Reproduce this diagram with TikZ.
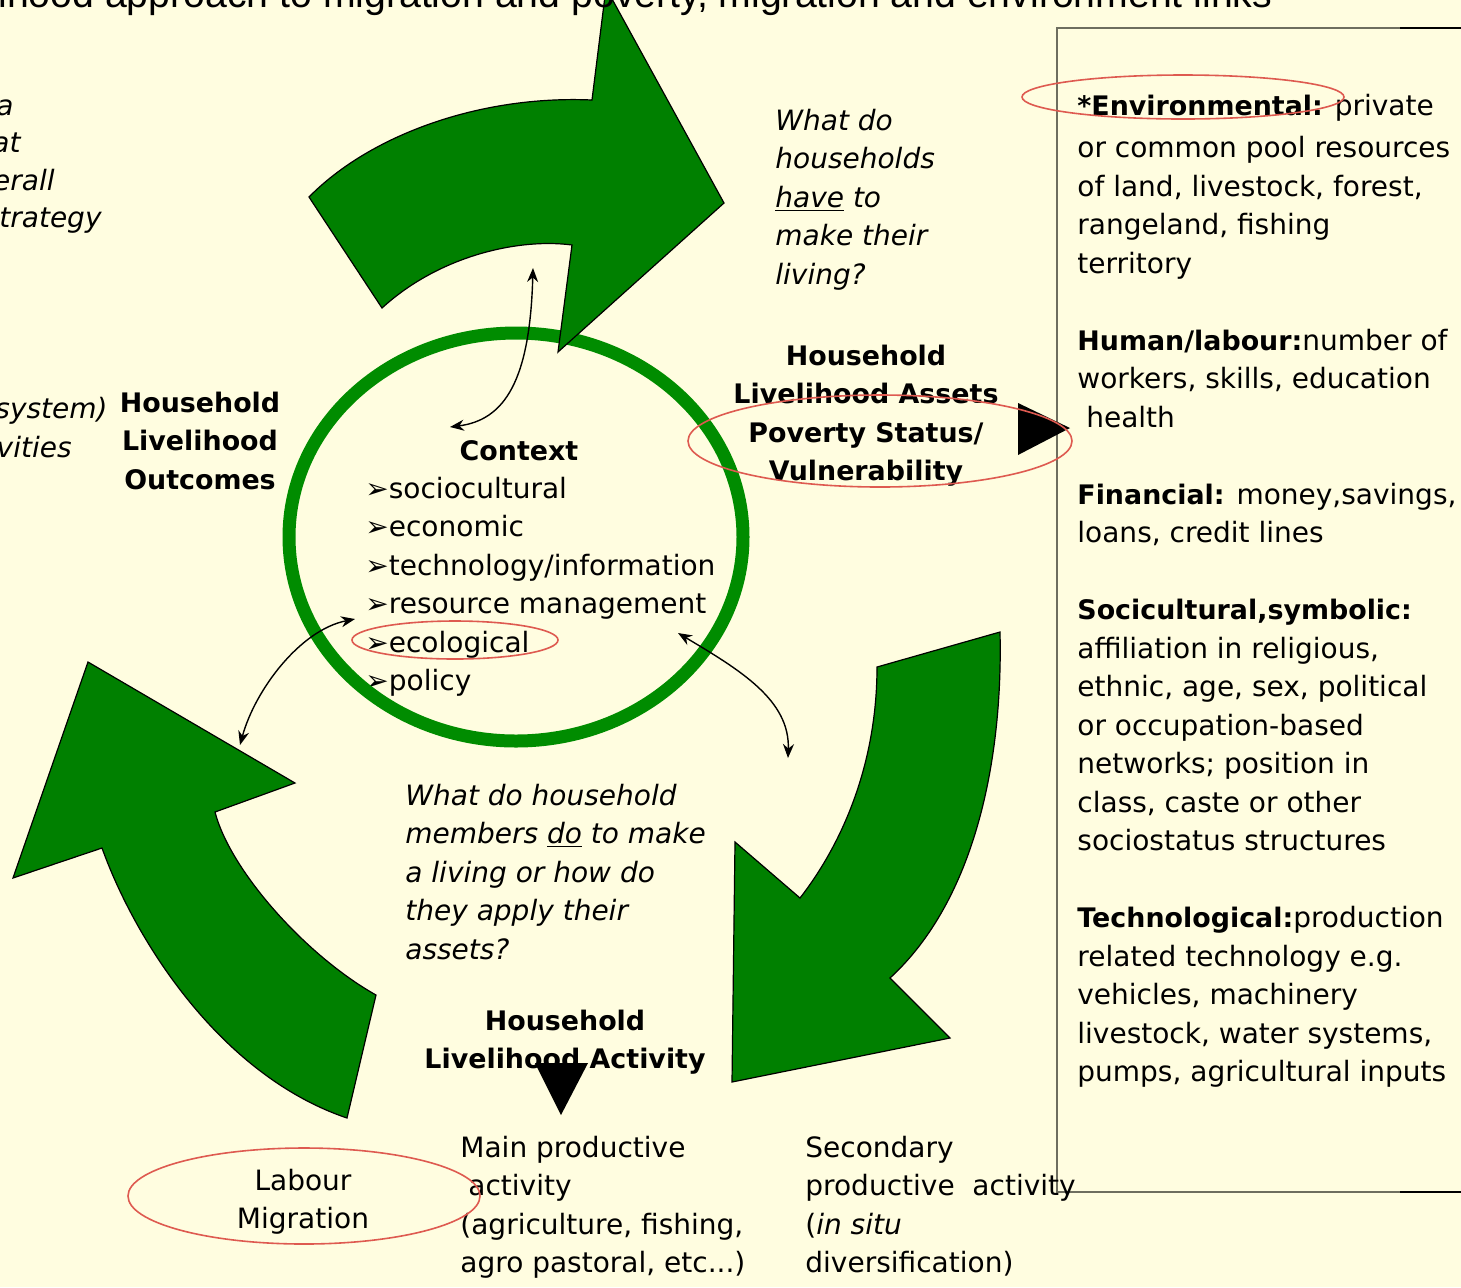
\documentclass[tikz,border=0pt]{standalone}
\usepackage{fontspec}
\setmainfont{DejaVu Sans}[BoldFeatures={Scale=0.96}]
\newfontfamily\titlefont{Liberation Sans}
\usetikzlibrary{arrows.meta}
\definecolor{bg}{RGB}{255,253,224}
\definecolor{arrgreen}{RGB}{0,128,0}
\definecolor{ringgreen}{RGB}{0,140,0}
\definecolor{redring}{RGB}{222,90,80}
\definecolor{boxline}{RGB}{110,110,95}
\newcommand{\Ltab}[1]{\begin{tabular}[t]{@{}l@{}}#1\end{tabular}}
\newcommand{\Ctab}[1]{\begin{tabular}[t]{@{}c@{}}#1\end{tabular}}
\begin{document}
\begin{tikzpicture}[x=0.5pt,y=-0.5pt,
  txt/.style={inner sep=0pt, font=\fontsize{14}{19.25}\selectfont},
  itxt/.style={inner sep=0pt, font=\fontsize{14}{19.25}\selectfont\itshape},
  btxt/.style={inner sep=0pt, font=\fontsize{14}{19.25}\selectfont\bfseries},
  bigarrow/.style={fill=arrgreen, draw=black, line width=0.6pt, line join=miter},
  redell/.style={draw=redring, line width=0.8pt},
  dbl/.style={draw=black, line width=0.7pt, {Stealth[length=7pt,width=5.5pt]}-{Stealth[length=7pt,width=5.5pt]}},
  headtri/.style={fill=black}]
\useasboundingbox (0,0) rectangle (1461,1287);
\fill[bg] (0,0) rectangle (1461,1287);
\clip (0,0) rectangle (1461,1287);

% right box
\draw[boxline, line width=1pt] (1400,28) -- (1057,28) -- (1057,1192) -- (1400,1192);
\draw[black, line width=1pt] (1400,28) -- (1461,28) (1400,1192) -- (1461,1192);

% cut-off texts at the left
\node[itxt, anchor=base east] (cutA) at (14,115) {a};
\node[itxt, anchor=base east] (cutB) at (21,152) {at};
\node[itxt, anchor=base east] (cutC) at (55,190) {erall};
\node[itxt, anchor=base east] (cutD) at (102,227) {trategy};
\node[itxt, anchor=base east] (cutE) at (108,418) {system)};
\node[itxt, anchor=base east] (cutF) at (72,457) {vities};

% labels
\node[btxt, anchor=base] (outcomes) at (200,412) {\Ctab{Household\\Livelihood\\Outcomes}};
\node[itxt, anchor=base west] (have) at (775,130) {\Ltab{What do\\households\\\underline{have} to\\make their\\living?}};
\node[btxt, anchor=base] (assets) at (866,365) {\Ctab{Household\\Livelihood Assets\\Poverty Status/\\Vulnerability}};
\node[btxt, anchor=base] (context) at (519,460) {Context};
\node[txt, anchor=base west] (ctxlist) at (365,498) {\Ltab{➢sociocultural\\➢economic\\➢technology/information\\➢resource management\\➢ecological\\➢policy}};
\node[itxt, anchor=base west] (doq) at (405,805) {\Ltab{What do household\\members \underline{do} to make\\a living or how do\\they apply their\\assets?}};
\node[btxt, anchor=base] (activity) at (565,1030) {\Ctab{Household\\Livelihood Activity}};
\node[txt, anchor=base] (labour) at (303,1190) {\Ctab{Labour\\Migration}};
\node[txt, anchor=base west] (mainact) at (460,1157) {\Ltab{Main productive\\\hspace{4pt}activity\\(agriculture, fishing,\\agro pastoral, etc...)}};
\node[txt, anchor=base west] (secact) at (805,1157) {\Ltab{Secondary\\productive~ activity\\(\textit{in situ}\\diversification)}};

% right box text
\node[txt, anchor=base west] (assetlist) at (1077,115) {\Ltab{%
\textbf{*Environmental:} private\\[2pt]
or common pool resources\\
of land, livestock, forest,\\
rangeland, fishing\\
territory\\
\\
\textbf{Human/labour:}number of\\
workers, skills, education\\
\ health\\
\\
\textbf{Financial:} money,savings,\\
loans, credit lines\\
\\
\textbf{Socicultural,symbolic:}\\
affiliation in religious,\\
ethnic, age, sex, political\\
or occupation-based\\
networks; position in\\
class, caste or other\\
sociostatus structures\\
\\
\textbf{Technological:}production\\
related technology e.g.\\
vehicles, machinery\\
livestock, water systems,\\
pumps, agricultural inputs}};

% context ring
\draw[ringgreen, line width=6.5pt] (516,537) ellipse [x radius=227, y radius=204];

% big green arrows
\draw[bigarrow] (309,197) .. controls (370,135) and (480,95) .. (592,100)
  -- (606,-12) -- (724,203) -- (558,352) -- (572,245)
  .. controls (520,238) and (440,255) .. (382,308) -- cycle;
\draw[bigarrow] (877,667) -- (1000,632) .. controls (1003,760) and (975,900) .. (890,978)
  -- (950,1038) -- (732,1082) -- (735,842) -- (800,898)
  .. controls (845,840) and (877,760) .. (877,667) -- cycle;
\draw[bigarrow] (376,995) .. controls (305,955) and (230,870) .. (215,812)
  -- (295,783) -- (88,662) -- (13,878) -- (102,848)
  .. controls (135,940) and (220,1075) .. (347,1118) -- cycle;

% black heads
\fill[headtri] (1018,403) -- (1070,428) -- (1018,455) -- cycle;
\fill[headtri] (535,1063) -- (588,1063) -- (561,1115) -- cycle;

% double-headed connectors
\coordinate (topA) at (533,268);
\coordinate (topB) at (450,427);
\coordinate (leftA) at (355,619);
\coordinate (leftB) at (240,745);
\coordinate (rightA) at (678,633);
\coordinate (rightB) at (788,758);
\draw[dbl] (topA) .. controls (530,380) and (505,420) .. (topB);
\draw[dbl] (leftA) .. controls (300,630) and (255,690) .. (leftB);
\draw[dbl] (rightA) .. controls (740,670) and (790,700) .. (rightB);

% red highlight ellipses
\draw[redell] (1183,97) ellipse [x radius=161, y radius=22];
\draw[redell] (880,441) ellipse [x radius=192, y radius=46];
\draw[redell] (455,640) ellipse [x radius=103, y radius=19];
\draw[redell] (304,1196) ellipse [x radius=176, y radius=48];

% title (cut off at the top)
\node[inner sep=0pt, anchor=base west, font=\titlefont\fontsize{19.6}{22}\selectfont] (title) at (-2,7) {ihood approach to migration and poverty, migration and environment links};
\end{tikzpicture}
\end{document}
